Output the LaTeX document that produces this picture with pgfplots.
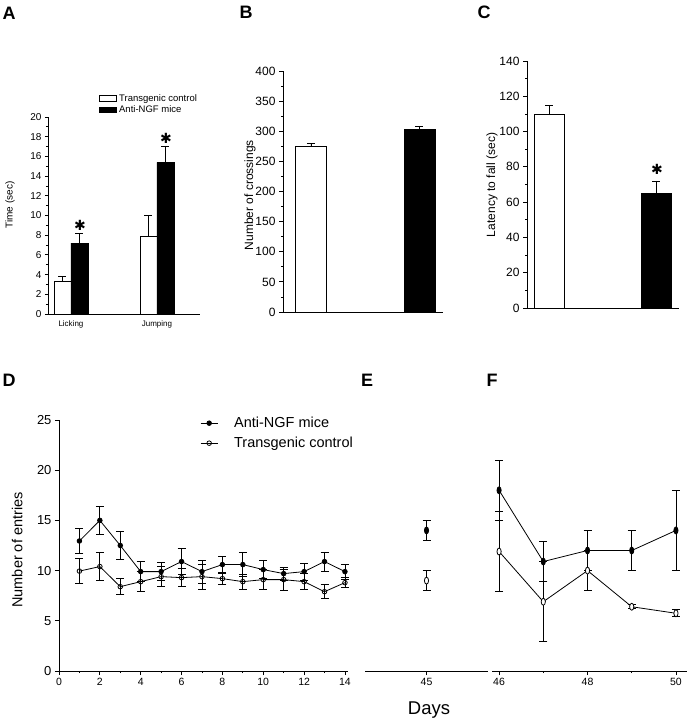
\documentclass[border=0pt]{standalone}
\usepackage{fontspec}
\setmainfont{Liberation Sans}
\newfontfamily\djv{DejaVu Sans}
\usepackage{pgfplots}
\pgfplotsset{compat=1.18}

\newcommand{\fs}[1]{\fontsize{#1}{#1}\selectfont}

\pgfplotsset{
  panel/.style={
    scale only axis, anchor=south west,
    axis x line*=bottom, axis y line*=left,
    axis line style={-, line width=0.9pt},
    tick align=outside, major tick length=4pt, minor tick length=2pt,
    every tick/.style={black, line width=0.8pt},
    /pgf/number format/assume math mode=true,
    clip=false,
  },
  errs/.style={error bars/.cd, y explicit, y dir=#1,
    error bar style={line width=0.8pt, black},
    error mark options={rotate=90, black, mark size=4pt, line width=0.8pt}},
}

\begin{document}
\begin{tikzpicture}[x=1pt,y=1pt]
\path[use as bounding box] (0,0) rectangle (688,720);

% ---------------- A ----------------
\begin{axis}[panel, at={(48pt,406pt)}, width=152pt, height=197pt,
  ybar=0pt, bar width=17pt,
  xmin=-0.267, xmax=1.5, ymin=0, ymax=20,
  xtick={0,1}, xticklabels={Licking,Jumping}, x tick style={draw=none},
  xticklabel style={font=\fs{8}},
  ytick={0,2,...,20}, minor y tick num=1, major tick length=3pt,
  yticklabel style={font=\fs{10}},
  ylabel={Time (sec)},
  ylabel style={at={(axis description cs:-0.25,0.553)}, anchor=center, font=\fs{10}},
  legend style={at={(axis description cs:0.336,1.127)}, anchor=north west,
    draw=none, fill=none, inner sep=0pt, font=\fs{9.5}, row sep=-1pt},
  legend cell align=left,
]
\addplot[fill=white, draw=black, line width=0.8pt, area legend, errs=plus]
  coordinates {(0,3.3) +- (0,0.5) (1,7.9) +- (0,2.1)};
\addlegendentry{Transgenic control}
\addplot[fill=black, draw=black, line width=0.8pt, area legend, errs=plus]
  coordinates {(0,7.2) +- (0,1.0) (1,15.4) +- (0,1.6)};
\addlegendentry{Anti-NGF mice}
\end{axis}
\node[font=\fs{14}\djv] at (80,495) {✱};
\node[font=\fs{14}\djv] at (166,582) {✱};

% ---------------- B ----------------
\begin{axis}[panel, at={(283pt,408pt)}, width=160pt, height=241pt,
  ybar, bar width=31pt, bar shift=0pt,
  xmin=-0.258, xmax=1.217, ymin=0, ymax=400,
  xtick=\empty,
  ytick={0,50,...,400}, minor y tick num=1,
  yticklabel style={font=\fs{12}},
  ylabel={Number of crossings},
  ylabel style={at={(axis description cs:-0.206,0.485)}, anchor=center, font=\fs{12}},
]
\addplot[fill=white, draw=black, line width=0.8pt, errs=plus]
  coordinates {(0,275) +- (0,4)};
\addplot[fill=black, draw=black, line width=0.8pt, errs=plus]
  coordinates {(1,303) +- (0,5)};
\end{axis}

% ---------------- C ----------------
\begin{axis}[panel, at={(527pt,412pt)}, width=152pt, height=247pt,
  ybar, bar width=30pt, bar shift=0pt,
  xmin=-0.206, xmax=1.215, ymin=0, ymax=140,
  xtick=\empty,
  ytick={0,20,...,140}, minor y tick num=1,
  yticklabel style={font=\fs{12}},
  ylabel={Latency to fall (sec)},
  ylabel style={at={(axis description cs:-0.23,0.498)}, anchor=center, font=\fs{12}},
]
\addplot[fill=white, draw=black, line width=0.8pt, errs=plus]
  coordinates {(0,110) +- (0,5)};
\addplot[fill=black, draw=black, line width=0.8pt, errs=plus]
  coordinates {(1,65) +- (0,7)};
\end{axis}
\node[font=\fs{14}\djv] at (657,551) {✱};

% ---------------- D ----------------
\begin{axis}[panel, at={(59pt,49pt)}, width=289pt, height=251pt,
  xmin=0, xmax=14.15, ymin=0, ymax=25,
  xtick={0,2,...,14}, minor x tick num=1,
  ytick={0,5,...,25},
  xticklabel style={font=\fs{10.5}},
  yticklabel style={font=\fs{13}},
  ylabel={Number of entries},
  ylabel style={at={(axis description cs:-0.145,0.482)}, anchor=center, font=\fs{14.5}},
  legend style={at={(axis description cs:0.488,1.02)}, anchor=north west,
    draw=none, fill=none, inner sep=0pt, font=\fs{14.5}, row sep=4pt,
    /tikz/every odd column/.append style={column sep=14pt}},
  legend cell align=left,
]
\addplot[black, line width=0.8pt, mark=*, mark size=2.3pt, errs=both] coordinates {
  (1,12.95) +- (0,1.25) (2,15.0) +- (0,1.4) (3,12.5) +- (0,1.4)
  (4,9.9) +- (0,1.0) (5,9.9) +- (0,0.9) (6,10.9) +- (0,1.3)
  (7,9.9) +- (0,1.15) (8,10.6) +- (0,0.85) (9,10.6) +- (0,1.2)
  (10,10.1) +- (0,0.9) (11,9.7) +- (0,0.65) (12,9.9) +- (0,0.85)
  (13,10.9) +- (0,0.95) (14,9.9) +- (0,0.75)};
\addlegendentry{Anti-NGF mice}
\addplot[black, line width=0.8pt, mark=o, mark size=2.3pt, mark options={fill=white}, errs=both] coordinates {
  (1,9.95) +- (0,1.25) (2,10.4) +- (0,1.4) (3,8.4) +- (0,0.8)
  (4,8.9) +- (0,1.0) (5,9.4) +- (0,1.0) (6,9.3) +- (0,0.9)
  (7,9.4) +- (0,1.25) (8,9.2) +- (0,0.6) (9,8.9) +- (0,0.75)
  (10,9.1) +- (0,1.0) (11,9.1) +- (0,1.05) (12,8.9) +- (0,0.8)
  (13,7.9) +- (0,0.7) (14,8.8) +- (0,0.5)};
\addlegendentry{Transgenic control}
\end{axis}

% ---------------- E ----------------
\begin{axis}[panel, at={(365pt,49pt)}, width=123pt, height=251pt,
  axis y line=none,
  xmin=44, xmax=46, ymin=0, ymax=25,
  xtick={45}, xticklabel style={font=\fs{10.5}},
]
\addplot[black, line width=0.8pt, only marks, mark=*, mark size=3.5pt, mark options={xscale=0.6}, errs=both]
  coordinates {(45,14) +- (0,1)};
\addplot[black, line width=0.8pt, only marks, mark=*, mark size=3.5pt, mark options={xscale=0.6, fill=white}, errs=both]
  coordinates {(45,9) +- (0,1)};
\end{axis}

% ---------------- F ----------------
\begin{axis}[panel, at={(492pt,49pt)}, width=195pt, height=251pt,
  axis y line=none,
  xmin=45.84, xmax=50.25, ymin=0, ymax=25,
  xtick={46,48,50}, minor x tick num=1, xticklabel style={font=\fs{10.5}},
]
\addplot[black, line width=0.8pt, mark=*, mark size=3.5pt, mark options={xscale=0.6}, errs=both] coordinates {
  (46,18) +- (0,3) (47,10.9) +- (0,2) (48,12) +- (0,2) (49,12) +- (0,2) (50,14) +- (0,4)};
\addplot[black, line width=0.8pt, mark=*, mark size=3.5pt, mark options={xscale=0.6, fill=white}, errs=both] coordinates {
  (46,11.9) +- (0,4) (47,6.9) +- (0,4) (48,10) +- (0,2) (49,6.4) +- (0,0.2) (50,5.75) +- (0,0.35)};
\end{axis}

% ---------------- labels ----------------
\node[font=\fs{18}\bfseries] at (9,707) {A};
\node[font=\fs{18}\bfseries] at (246,708) {B};
\node[font=\fs{18}\bfseries] at (484,708) {C};
\node[font=\fs{18}\bfseries] at (9,340) {D};
\node[font=\fs{18}\bfseries] at (367,340) {E};
\node[font=\fs{18}\bfseries] at (492,340) {F};
\node[font=\fs{18.5}] at (429,10) {Days};
\end{tikzpicture}
\end{document}
